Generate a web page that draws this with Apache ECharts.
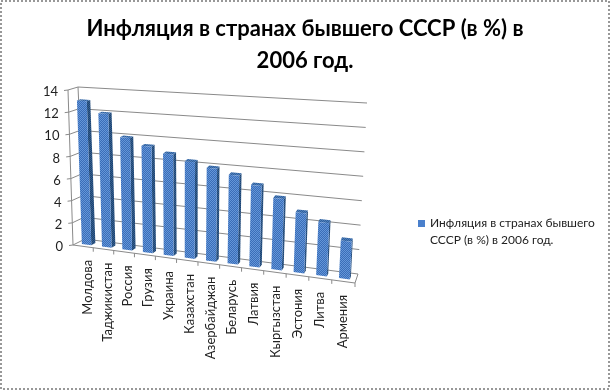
<!DOCTYPE html>
<html><head><meta charset="utf-8">
<style>html,body{margin:0;padding:0;background:#fff}#c{width:610px;height:390px}</style>
<script src="https://cdn.jsdelivr.net/npm/echarts@6/dist/echarts.min.js"></script>
</head><body><div id="c"></div>
<script>
const chartTitle = 'Инфляция в странах бывшего СССР (в %) в\n2006 год.';
const seriesName = 'Инфляция в странах бывшего СССР (в %) в 2006 год.';
const categories = ['Молдова','Таджикистан','Россия','Грузия','Украина','Казахстан','Азербайджан','Беларусь','Латвия','Кыргызстан','Эстония','Литва','Армения'];
const inflation = [13,12,10,9.4,8.9,8.4,8.0,7.6,6.9,6,5,4.4,3.1];
const yTicks = [0,2,4,6,8,10,12,14];

const FONT = 'Lato, "Noto Sans", sans-serif';
// projected box corners of the 3D plot [x,y]: floor front/back, top front/back
const box = {
  fl:[73,245], fr:[355,283], bl:[85,239], br:[358,274],
  tl:[68,90],  tr:[364,112], kl:[78,87],  kr:[367,103]
};
const mix=(a,b,t)=>[a[0]+(b[0]-a[0])*t,a[1]+(b[1]-a[1])*t];
const persp=u=>u/(1+0.077*(1-u));
// u: 0..1 along categories, t: 0..1 up the value scale, d: 0 front..1 back
function P(u,t,d){
  const w=persp(u);
  const bottomL=mix(box.fl,box.bl,d), bottomR=mix(box.fr,box.br,d);
  const topL=mix(box.tl,box.kl,d), topR=mix(box.tr,box.kr,d);
  return mix(mix(bottomL,bottomR,w),mix(topL,topR,w),t);
}
function norm(params,api,x,v){
  const c=params.coordSys, p=api.coord([x,v]);
  return [(p[0]-c.x)/c.width,(c.y+c.height-p[1])/c.height];
}
function dither(a,b){
  const cv=document.createElement('canvas');cv.width=cv.height=2;
  const g=cv.getContext('2d');
  g.fillStyle=a;g.fillRect(0,0,2,2);
  g.fillStyle=b;g.fillRect(0,0,1,1);g.fillRect(1,1,1,1);
  return {image:cv,repeat:'repeat'};
}
const FRONT=dither('#3a6db8','#6496d8');
const SIDE=dither('#1f4470','#345f90');
const TOP=dither('#2f5f9c','#4f80bc');
const GRID='#8a8a8a';
const line=(a,b,w)=>({type:'line',shape:{x1:a[0],y1:a[1],x2:b[0],y2:b[1]},style:{stroke:GRID,lineWidth:w||1}});
const poly=(pts,fill)=>({type:'polygon',shape:{points:pts},style:{fill}});

function renderTick(params,api){
  const v=api.value(1);
  const t=norm(params,api,0,v)[1];
  const a=P(0,t,0),b=P(0,t,1),r=P(1,t,1);
  return {type:'group',children:[
    line([a[0]-4,a[1]+0.5],a),line(a,b),line(b,r),
    {type:'text',x:a[0]-10,y:a[1]+2,style:{text:String(yTicks[params.dataIndex]),textAlign:'right',textVerticalAlign:'middle',fill:'#222',font:'13px '+FONT}}
  ]};
}
function renderWalls(){
  const ch=[P(0,0,0),P(0,1,0)], cb=[P(0,0,1),P(0,1,1)];
  return {type:'group',children:[
    line(ch[0],ch[1]),line(cb[0],cb[1]),
    line(P(0,0,0),P(1,0,0)),line(P(1,0,0),P(1,0,1))
  ]};
}
function renderCat(params,api){
  const i=params.dataIndex, n=categories.length;
  const u1=(i+1)/n, uc=(i+0.5)/n;
  const t=P(i===n-1?1:u1,0,0), c=P(uc,0,0);
  return {type:'group',children:[
    line(t,[t[0],t[1]+4]),
    {type:'text',x:c[0]+5-6*uc,y:c[1]+13.5,rotation:Math.PI/2,
     style:{text:categories[i],textAlign:'right',textVerticalAlign:'middle',fill:'#222',font:'13px '+FONT}}
  ]};
}
function renderBar(params,api){
  const x=api.value(0), v=api.value(1);
  const c=params.coordSys;
  const uc=norm(params,api,x,v)[0], t=norm(params,api,x,v)[1];
  const hw=api.size([1,0])[0]/c.width*0.235;
  const u0=uc-hw,u1=uc+hw,dF=0.3,dB=0.65;
  return {type:'group',children:[
    poly([P(u1,0,dF),P(u1,0,dB),P(u1,t,dB),P(u1,t,dF)],SIDE),
    poly([P(u0,t,dF),P(u1,t,dF),P(u1,t,dB),P(u0,t,dB)],TOP),
    poly([P(u0,0,dF),P(u1,0,dF),P(u1,t,dF),P(u0,t,dF)],FRONT)
  ]};
}
const common={type:'custom',clip:false,silent:true};
const chart=echarts.init(document.getElementById('c'),null,{renderer:'canvas'});
chart.setOption({
  animation:false,
  backgroundColor:'#fff',
  title:{text:chartTitle,left:300,top:8,textAlign:'center',
    textStyle:{fontFamily:FONT,fontSize:22,fontWeight:'bold',color:'#000',lineHeight:32}},
  grid:{left:100,right:100,top:100,bottom:100},
  xAxis:{type:'category',data:categories,show:false},
  yAxis:{type:'value',min:0,max:14,interval:2,show:false},
  legend:{left:418,top:215,padding:0,orient:'vertical',itemWidth:7,itemHeight:24,itemGap:0,
    data:[{name:seriesName,icon:'path://M0 0H7V7H0ZM0 24L0 24Z',itemStyle:{color:'#4a80cc'}}],
    formatter:()=>'Инфляция в странах бывшего\nСССР (в %) в 2006 год.',
    textStyle:{fontFamily:FONT,fontSize:12,color:'#222',lineHeight:17}},
  graphic:[{type:'rect',z:100,silent:true,shape:{x:1,y:1,width:608,height:388},
    style:{fill:null,stroke:'#777',lineWidth:1.5,lineDash:[2,2]}}],
  series:[
    Object.assign({},common,{name:'walls',z:1,renderItem:renderWalls,data:[[0,0]]}),
    Object.assign({},common,{name:'ticks',z:2,renderItem:renderTick,data:yTicks.map(v=>[0,v])}),
    Object.assign({},common,{name:'cats',z:3,renderItem:renderCat,data:categories.map((c,i)=>[i,0])}),
    Object.assign({},common,{name:seriesName,z:4,renderItem:renderBar,itemStyle:{color:'#4a80cc'},
      data:categories.map((c,i)=>[i,inflation[i]])})
  ]
});
</script></body></html>
